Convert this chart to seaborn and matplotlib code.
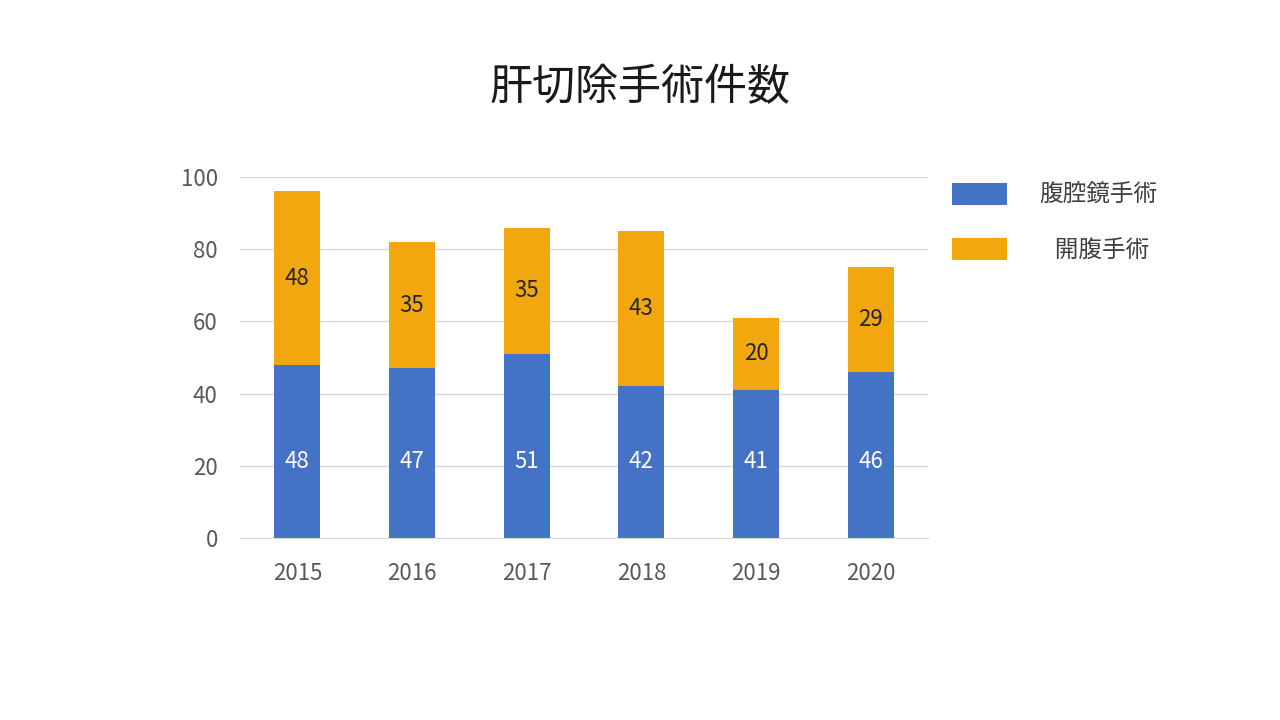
import pandas as pd
import seaborn as sns
import matplotlib.pyplot as plt

years = ["2015", "2016", "2017", "2018", "2019", "2020"]
lap = [48, 47, 51, 42, 41, 46]
open_ = [48, 35, 35, 43, 20, 29]
series_names = ["腹腔鏡手術", "開腹手術"]
title = "肝切除手術件数"

df = pd.DataFrame({"year": years, "lap": lap, "open": open_})

sns.set_style("white")
plt.rcParams["font.family"] = ["Noto Sans CJK JP", "DejaVu Sans"]

blue = "#4472C4"
orange = "#F2A70F"

fig = plt.figure(figsize=(12.8, 7.2), dpi=100)
ax = fig.add_axes([0.1875, 0.2528, 0.5375, 0.5014])

sns.barplot(x="year", y="lap", data=df, color=blue, width=0.4, linewidth=0,
            saturation=1, ax=ax, label=series_names[0])
sns.barplot(x="year", y="open", data=df, color=orange, width=0.4, linewidth=0,
            saturation=1, ax=ax, bottom=df["lap"], label=series_names[1])
handles, labels = ax.get_legend_handles_labels()
if ax.get_legend() is not None:
    ax.get_legend().remove()

# blue labels sit at the same height in every bar, orange ones mid-segment
for i, v in enumerate(lap):
    ax.text(i, 21.3, str(v), ha="center", va="center", color="white", fontsize=16)
ax.bar_label(ax.containers[1], label_type="center", color="#262626", fontsize=16)

ax.set_ylim(0, 100)
ax.set_yticks(range(0, 101, 20))
ax.set_xlim(-0.5, 5.5)
ax.yaxis.grid(True, color="#D9D9D9", linewidth=1)
ax.set_axisbelow(True)
for s in ["top", "right", "left"]:
    ax.spines[s].set_visible(False)
ax.spines["bottom"].set_color("#D9D9D9")
ax.tick_params(axis="both", length=0, labelsize=16, colors="#595959")
ax.tick_params(axis="x", pad=17)
ax.tick_params(axis="y", pad=16)
ax.set_xlabel("")
ax.set_ylabel("")

fig.text(0.5, 0.878, title, ha="center", va="center", fontsize=31, color="#1a1a1a")

labels = [labels[0], "   " + labels[1]]
leg = fig.legend(handles, labels, loc="upper left", bbox_to_anchor=(0.7272, 0.776),
                 frameon=False, fontsize=17, handlelength=2.33, handleheight=1.1,
                 handletextpad=1.36, labelspacing=1.3)
for t in leg.get_texts():
    t.set_color("#404040")

fig.savefig("out.png", dpi=100)
